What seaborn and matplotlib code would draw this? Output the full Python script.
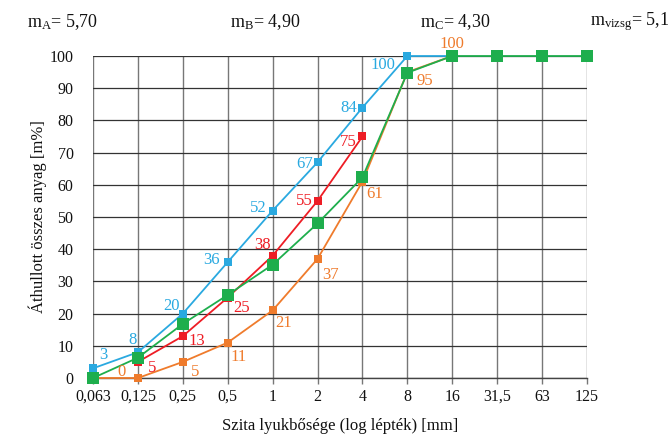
import numpy as np
import pandas as pd
import matplotlib
matplotlib.use("Agg")
import matplotlib.pyplot as plt
import seaborn as sns

# ---- data ----
sizes = ["0,063", "0,125", "0,25", "0,5", "1", "2", "4", "8", "16", "31,5", "63", "125"]
blue_vals = [3, 8, 20, 36, 52, 67, 84, 100, 100, np.nan, np.nan, np.nan]
red_vals = [np.nan, 5, 13, 25, 38, 55, 75, np.nan, np.nan, np.nan, np.nan, np.nan]
orange_vals = [0, 0, 5, 11, 21, 37, 61, 95, 100, np.nan, np.nan, np.nan]
green_vals = [0, 6.3, 16.8, 25.8, 35.2, 48, 62.3, 94.8, 100, 100, 100, 100]
top_texts = [r"m$_\mathrm{A}$= 5,70", r"m$_\mathrm{B}$= 4,90", r"m$_\mathrm{C}$= 4,30", r"m$_\mathrm{vizsg}$= 5,1"]
ylabel = "Áthullott összes anyag [m%]"
xlabel = "Szita lyukbősége (log lépték) [mm]"

# label offsets (pixels) per labelled point: (index, dx, dy)
blue_lab = [(0, 10, 13), (1, -5, 12), (2, -11, 8), (3, -16, 2), (4, -14, 3), (5, -13, -2), (6, -14, 0), (7, -24, -9)]
red_lab = [(1, 14, -6), (2, 14, -5), (3, 14, -10), (4, -10, 11), (5, -13, 0), (6, -14, -6)]
orange_lab = [(1, -16, 6), (2, 12, -10), (3, 11, -14), (4, 11, -13), (5, 13, -16), (6, 12, -12), (7, 17, -9), (8, 0, 12)]

c_blue, c_red, c_orange, c_green = "#2AA9E0", "#EE1D25", "#EF7B2C", "#1EAE4D"

sns.set_theme(style="white")
plt.rcParams["font.family"] = ["Liberation Serif", "DejaVu Serif"]
plt.rcParams["mathtext.fontset"] = "custom"
plt.rcParams["mathtext.rm"] = "Liberation Serif"
plt.rcParams["mathtext.it"] = "Liberation Serif:italic"

fig = plt.figure(figsize=(6.72, 4.34), dpi=100)
ax = fig.add_axes([93 / 672, 1 - 378 / 434, (587 - 93) / 672, (378 - 56) / 434])

pos = np.arange(len(sizes))
df = pd.DataFrame({"pos": pos, "blue": blue_vals, "red": red_vals,
                   "orange": orange_vals, "green": green_vals})

for col, c, ms, z in [("orange", c_orange, 6, 3), ("red", c_red, 6, 4),
                      ("blue", c_blue, 6, 5), ("green", c_green, 8, 6)]:
    d = df[["pos", col]].dropna()
    sns.lineplot(data=d, x="pos", y=col, ax=ax, color=c, marker="s",
                 markersize=ms, markeredgewidth=0, linewidth=1.3, zorder=z,
                 clip_on=False)

for labs, vals, c in [(blue_lab, blue_vals, c_blue), (red_lab, red_vals, c_red),
                      (orange_lab, orange_vals, c_orange)]:
    for i, dx, dy in labs:
        ax.annotate(f"{vals[i]:g}", (pos[i], vals[i]), xytext=(dx, dy),
                    textcoords="offset pixels", ha="center", va="center",
                    color=c, fontsize=12, zorder=7, annotation_clip=False)

ax.set_xlim(0, len(sizes) - 1)
ax.set_ylim(0, 100)
ax.set_xticks(pos)
ax.set_xticklabels(sizes)
ax.set_yticks(np.arange(0, 101, 10))
ax.grid(axis="x", color="#777777", linewidth=1.0)
ax.grid(axis="y", color="#333333", linewidth=0.9)
ax.set_axisbelow(True)
for s in ["top", "right", "left"]:
    ax.spines[s].set_visible(False)
ax.spines["bottom"].set_color("#444444")
ax.spines["bottom"].set_linewidth(1.0)
ax.tick_params(axis="x", which="major", bottom=True, length=4, width=1, color="#777777",
               direction="out", labelsize=11.5, pad=4, labelcolor="#111111")
ax.tick_params(axis="y", length=0, labelsize=11.5, pad=14, labelcolor="#111111")
ax.set_xlabel(xlabel, fontsize=12, labelpad=9, color="#111111")
ax.set_ylabel(ylabel, fontsize=12, labelpad=2, color="#111111")

for x, t in zip([27, 230, 420, 590], top_texts):
    fig.text(x / 672, 1 - 22 / 434, t, ha="left", va="center", fontsize=13, color="#111111")

fig.savefig("out.png", dpi=100)
